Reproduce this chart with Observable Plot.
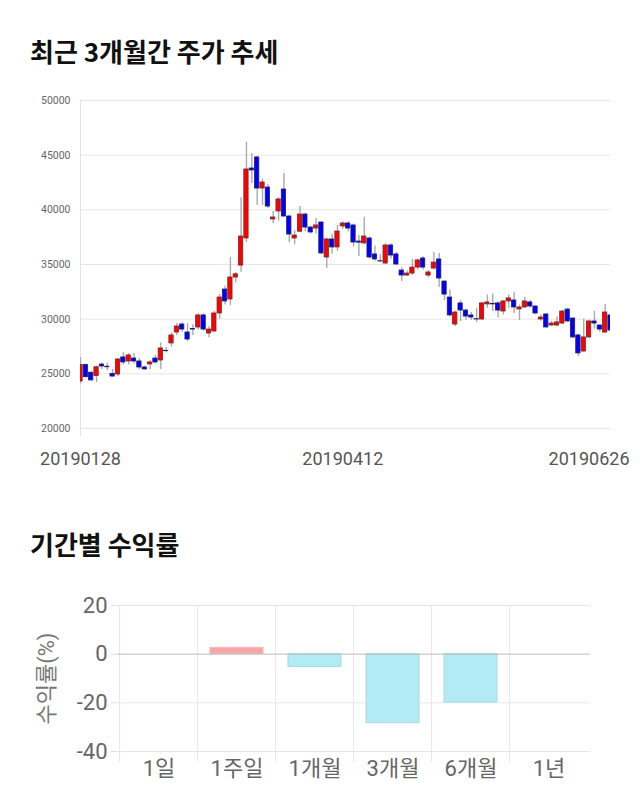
<!DOCTYPE html>
<html><head><meta charset="utf-8">
<script src="https://cdn.jsdelivr.net/npm/d3@7"></script>
<script src="https://cdn.jsdelivr.net/npm/@observablehq/plot@0.6"></script>
<style>
html,body{margin:0;padding:0;background:#fff;}
body{width:640px;height:810px;position:relative;overflow:hidden;font-family:Roboto,"Noto Sans CJK KR",sans-serif;}
.title{position:absolute;left:30px;font-family:"Noto Sans CJK KR",sans-serif;font-weight:bold;font-size:26px;line-height:26px;color:#111;}
#c1{position:absolute;left:0;top:85px;}
#c2{position:absolute;left:0;top:585px;}
</style></head>
<body>
<div class="title" style="top:38px">최근 3개월간 주가 추세</div>
<div id="c1"></div>
<div class="title" style="top:531px">기간별 수익률</div>
<div id="c2"></div>
<script>
// ---- stock candles (daily, 20190128 .. 20190626) ----
const opens  = [24300,25800,25100,24800,25850,25650,25000,24940,26500,26130,26400,26130,25580,25860,26400,26220,27100,27780,28780,29510,28780,29100,29240,30340,28690,28870,30520,32710,31800,33810,34900,37380,43780,44790,41950,42040,39120,39850,41860,39390,37380,38000,39570,38380,38290,38840,35640,37290,36560,38480,38750,38570,37100,36930,37380,35920,35300,35090,36740,35920,34450,33990,34170,34720,35550,33990,34630,35460,33440,31980,29510,31440,30790,30340,30000,29970,31350,31380,31440,30700,31620,31710,30890,31070,31530,31160,29970,30430,29420,29420,29600,30880,30060,28510,27040,28330,29790,29420,28780,30340];
const closes = [25800,24700,24400,25600,25670,25600,24750,26310,26040,26680,26130,25580,25400,26040,26040,27320,27070,28510,29330,29050,28140,29050,30340,29050,29050,30520,31980,31620,33810,34100,37560,43690,43600,41950,42500,40300,39300,40950,39390,37740,37650,39570,38380,37930,38570,36010,37290,36560,38020,38750,38290,37010,37000,37560,35640,35460,35275,36740,35820,35000,33990,34170,34720,35370,34720,34270,35180,33720,32250,30340,30610,30790,30240,30150,29970,31440,31530,31350,30790,31620,31900,31070,31070,31620,31160,30520,30150,29240,29600,29700,30700,29790,28330,26870,28330,29790,29600,29050,30610,28960];
const highs  = [26500,25900,25200,25700,26000,26000,25400,26400,26950,26860,26860,26400,25700,26200,26700,27840,27400,28760,29600,29700,29600,29500,30500,30500,29300,30700,32250,33000,35650,34300,41100,46190,45150,44900,42800,42300,39850,41100,43330,39500,38100,40300,39700,38500,39200,38900,37400,37800,38570,38900,38900,38700,37650,39330,37500,36700,35900,36900,36900,36100,34700,34400,35460,35500,35700,34450,36100,36000,33500,32700,30700,31700,30900,30600,31000,31500,32200,32300,31600,31700,32200,32430,31300,32000,31700,31200,30400,30500,29800,30200,30800,31000,30100,28600,30000,29900,30700,29500,31350,30500];
const lows   = [24100,24600,24300,24200,25400,25300,24700,24750,25800,25800,25900,25400,25350,25400,25900,25400,26900,27440,28500,28800,27950,28500,29000,28900,28300,28800,30000,31300,31260,33300,34300,37000,42400,40400,40400,40100,38750,39000,39300,37000,36800,37900,38000,37800,37800,35900,34640,35930,36200,38200,38000,36600,35740,36800,35500,35300,35200,35000,35500,34900,33440,33900,34000,34500,34500,33800,34500,32900,31700,30200,29330,29800,29900,29900,29700,29900,31000,30700,30100,30400,31000,30520,29880,31000,31000,30400,29800,29200,29350,29300,29500,29700,28200,26580,27000,28200,29100,28800,28700,28900];
const priceTicks = [20000,25000,30000,35000,40000,45000,50000];
const dateLabels = ["20190128","20190412","20190626"];
const dateIndex  = [0,49,99];

// ---- period returns ----
const periods = ["1일","1주일","1개월","3개월","6개월","1년"];
const returns = [0,2.6,-5.3,-28.4,-19.9,0];
const returnTicks = [20,0,-20,-40];

const candles = opens.map((o,i)=>({i,o,c:closes[i],h:highs[i],l:lows[i]}));
const labels = dateLabels.map((t,k)=>({t,i:dateIndex[k]}));
const FONT = 'Roboto,"Noto Sans CJK KR",sans-serif';

const p1 = Plot.plot({
  width:640, height:390, marginTop:15, marginBottom:47, marginLeft:80, marginRight:30,
  style:{fontFamily:FONT, background:"#fff"},
  x:{domain:[0,candles.length-1], axis:null},
  y:{domain:[20000,50000]},
  marks:[
    Plot.gridY(priceTicks,{stroke:"#e6e6e6", strokeOpacity:1}),
    Plot.ruleX([0],{stroke:"#e2e2e2", insetBottom:-8}),
    Plot.axisY(priceTicks,{tickSize:0, tickPadding:10, fontSize:10.5, fill:"#666", label:null, tickFormat:d=>String(d)}),
    Plot.ruleX(candles,{x:"i", y1:"l", y2:"h", stroke:"#aaa", strokeWidth:1.4, clip:true}),
    Plot.rect(candles,{x1:d=>d.i-0.4, x2:d=>d.i+0.4, y1:"o", y2:"c",
      fill:d=>d.c>=d.o?"#ff0000":"#0000ff",
      stroke:d=>d.c>=d.o?"#6e2a2a":"#20205e", strokeWidth:0.8, clip:true}),
    Plot.text(labels.slice(0,2),{x:"i", frameAnchor:"bottom", dy:36, text:"t", fontSize:18, fill:"#555"}),
    Plot.text(labels.slice(2),{x:"i", frameAnchor:"bottom", dy:36, text:"t", fontSize:18, fill:"#555", textAnchor:"end", dx:19})
  ]
});
document.getElementById("c1").append(p1);

const W2=640, ML2=117, MR2=50;
const step2 = (W2-ML2-MR2)/periods.length;
const rdata = periods.map((p,k)=>({p,v:returns[k]})).filter(d=>d.v!==0);
const p2 = Plot.plot({
  width:W2, height:225, marginTop:20, marginBottom:59, marginLeft:ML2, marginRight:MR2,
  style:{fontFamily:FONT, background:"#fff"},
  x:{domain:periods, paddingInner:0.32, paddingOuter:0.16},
  y:{domain:[-40,20]},
  marks:[
    Plot.gridY(returnTicks.filter(v=>v!==0),{stroke:"#e6e6e6", strokeOpacity:1}),
    Plot.ruleX(periods,{x:d=>d, dx:-step2/2, stroke:"#e6e6e6", insetBottom:-11}),
    Plot.axisY(returnTicks,{tickSize:6, tickPadding:4, stroke:"#e0e0e0", fontSize:22, fill:"#666", label:null, tickFormat:d=>String(d)}),
    Plot.barY(rdata,{x:"p", y:"v", fill:d=>d.v>0?"#f9a5a6":"#b2ebf3", stroke:d=>d.v>0?"#f0b8b8":"#a6dbe3", strokeWidth:1}),
    Plot.ruleY([0],{stroke:"#bdbdbd"}),
    Plot.axisX({tickSize:0, tickPadding:9, fontSize:22, fill:"#666", label:null}),
    Plot.text(["수익률(%)"],{frameAnchor:"left", textAnchor:"middle", dx:-71, rotate:-90, fontSize:22, fill:"#777"})
  ]
});
document.getElementById("c2").append(p2);
</script>
</body></html>
